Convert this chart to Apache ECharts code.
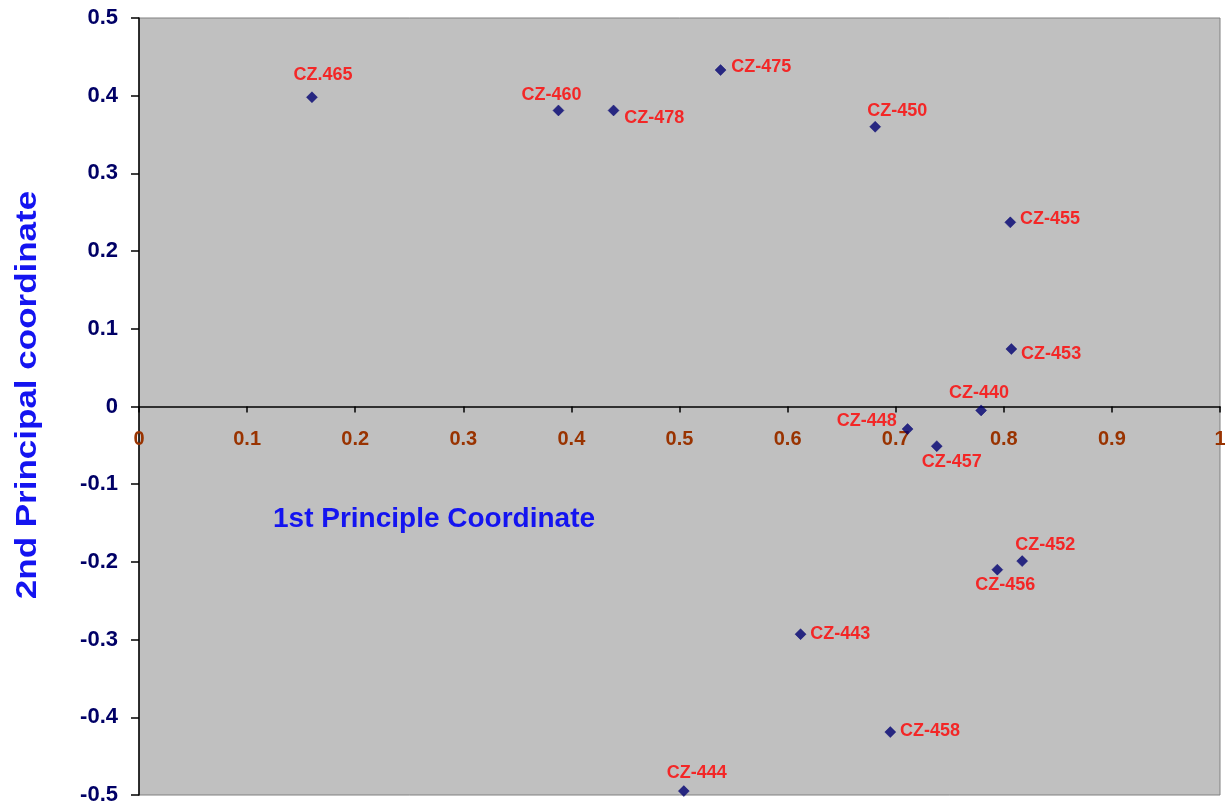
<!DOCTYPE html>
<html>
<head>
<meta charset="utf-8">
<script src="https://cdn.jsdelivr.net/npm/echarts@6/dist/echarts.min.js"></script>
<style>html,body{margin:0;padding:0;background:#fff;}#c{width:1225px;height:805px;}</style>
</head>
<body>
<div id="c"></div>
<script>
// ---- data ----
const names = ['CZ.465','CZ-460','CZ-478','CZ-475','CZ-450','CZ-455','CZ-453','CZ-440','CZ-448','CZ-457','CZ-452','CZ-456','CZ-443','CZ-458','CZ-444'];
const xValues = [0.160, 0.388, 0.439, 0.538, 0.681, 0.806, 0.807, 0.779, 0.711, 0.738, 0.817, 0.794, 0.612, 0.695, 0.504];
const yValues = [0.398, 0.381, 0.381, 0.433, 0.360, 0.237, 0.074, -0.005, -0.029, -0.051, -0.199, -0.210, -0.293, -0.419, -0.495];
const xAxisTitle = '1st Principle Coordinate';
const yAxisTitle = '2nd Principal coordinate';

// ---- label placement (style) ----
const labelStyle = {
  'CZ.465': {position:'top', offset:[11,-2]},
  'CZ-460': {position:'top', offset:[-7,4]},
  'CZ-478': {position:'right', offset:[0,8]},
  'CZ-475': {position:'right', offset:[0,-3]},
  'CZ-450': {position:'top', offset:[22,4]},
  'CZ-455': {position:'right', offset:[-1,-3]},
  'CZ-453': {position:'right', offset:[-1,5]},
  'CZ-440': {position:'top', offset:[-2,2]},
  'CZ-448': {position:'left', offset:[0,-8]},
  'CZ-457': {position:'bottom', offset:[15,-4]},
  'CZ-452': {position:'top', offset:[23,4]},
  'CZ-456': {position:'bottom', offset:[8,-4]},
  'CZ-443': {position:'right', offset:[-1,0]},
  'CZ-458': {position:'right', offset:[-1,-1]},
  'CZ-444': {position:'top', offset:[13,2]}
};

const seriesData = names.map((n, i) => ({
  name: n,
  value: [xValues[i], yValues[i]],
  label: Object.assign({show:true, formatter: n}, labelStyle[n])
}));

const GRID = {left:139, top:18, width:1081, height:777};

const chart = echarts.init(document.getElementById('c'), null, {renderer:'canvas'});
chart.setOption({
  animation: false,
  backgroundColor: '#ffffff',
  grid: Object.assign({show:true, containLabel:false, outerBoundsMode:'none', backgroundColor:'#c0c0c0', borderColor:'#808080', borderWidth:1}, GRID),
  xAxis: {
    type:'value', min:0, max:1, interval:0.1,
    position:'bottom', offset: -GRID.height / 2,
    axisLine:{show:true, onZero:false, lineStyle:{color:'#000', width:1.5}},
    axisTick:{show:true, length:6, lineStyle:{color:'#000', width:1.5}},
    axisLabel:{color:'#993300', fontWeight:'bold', fontSize:20, fontFamily:'Liberation Sans, Arial, sans-serif', margin:23, hideOverlap:false},
    splitLine:{show:false}
  },
  yAxis: {
    type:'value', min:-0.5, max:0.5, interval:0.1,
    axisLine:{show:true, lineStyle:{color:'#000', width:1.5}},
    axisTick:{show:true, length:8, lineStyle:{color:'#000', width:1.5}},
    axisLabel:{color:'#000066', fontWeight:'bold', fontSize:22, fontFamily:'Liberation Sans, Arial, sans-serif', margin:21},
    splitLine:{show:false}
  },
  graphic: [{
    type:'text', left:273, top:505,
    style:{text:xAxisTitle, fill:'#1414f0', font:'bold 28px "Liberation Sans", Arial, sans-serif'}
  }, {
    type:'text', x:28, y:395, rotation:Math.PI/2, scaleX:1.25, scaleY:1.05,
    style:{text:yAxisTitle, fill:'#1414f0', font:'bold 28px "Liberation Sans", Arial, sans-serif', align:'center', verticalAlign:'middle'}
  }],
  series: [{
    type:'scatter',
    symbol:'diamond',
    symbolSize:11,
    itemStyle:{color:'#000070', borderColor:'#000070', borderWidth:0.5},
    label:{show:true, color:'#ff0000', fontWeight:'bold', fontSize:18, fontFamily:'"Liberation Sans", Arial, sans-serif', distance:5},
    data: seriesData
  }]
});
</script>
</body>
</html>
